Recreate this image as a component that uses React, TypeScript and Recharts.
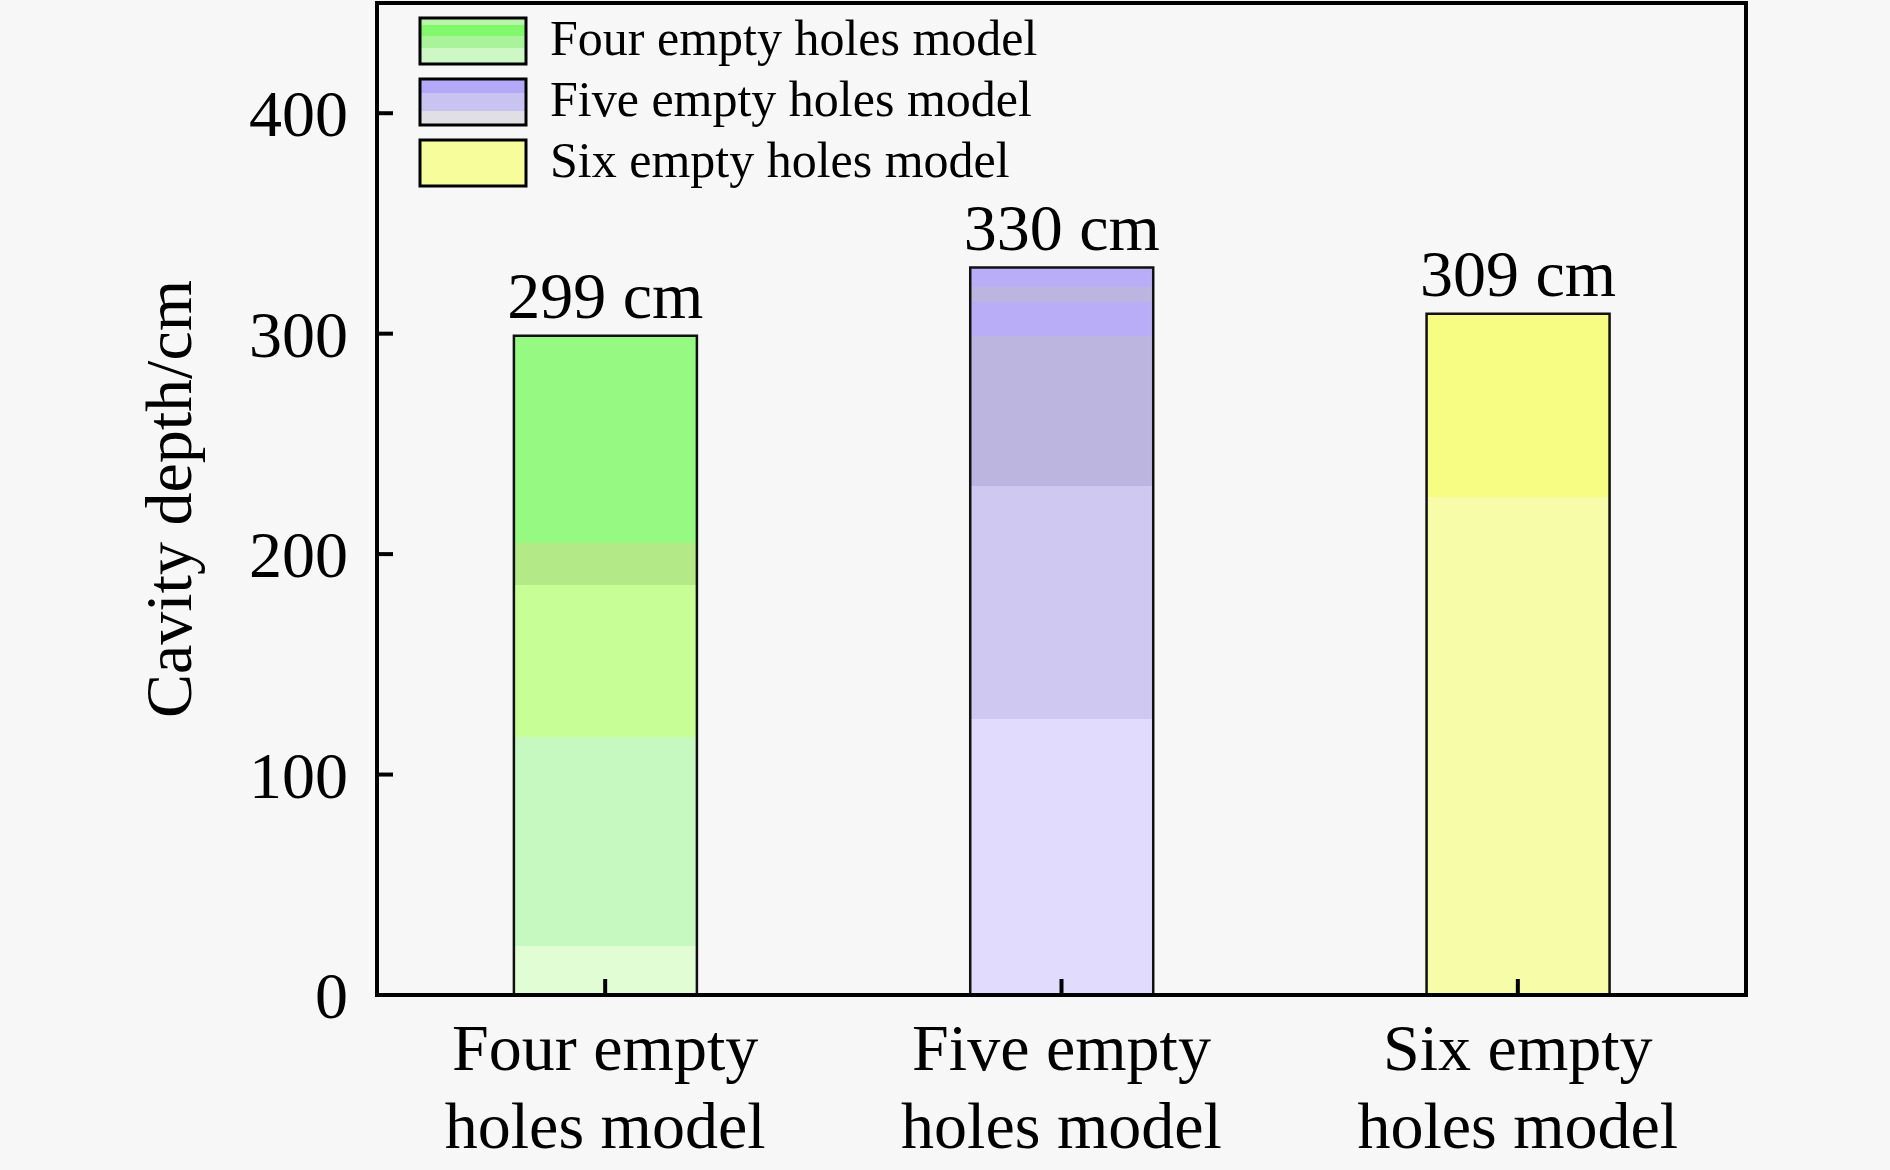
import React from "react";
import { Bar, BarChart, Cell, LabelList, Legend, XAxis, YAxis } from "recharts";

const FONT = '"Liberation Serif", "Times New Roman", serif';

// data
const models = ["Four empty holes model", "Five empty holes model", "Six empty holes model"];
const labelTop = ["Four empty", "Five empty", "Six empty"];
const labelBottom = ["holes model", "holes model", "holes model"];
const cavityDepth = [299, 330, 309];
const yTicks = [0, 100, 200, 300, 400];

const chartData = models.map((name, i) => ({ name, depth: cavityDepth[i] }));

// layout
const W = 1890;
const H = 1170;
const PLOT_LEFT = 377;
const PLOT_RIGHT = 1746;
const PLOT_TOP = 3;
const PLOT_BOTTOM = 995;
const AXIS_W = 4;
const TICK_LEN = 16;

// banded fills, offsets measured from the bar top
const fills = [
  { id: "fillFour", stops: [[0, "#96f982"], [0.314, "#b3ea87"], [0.378, "#c8fe96"], [0.609, "#c6f9c0"], [0.926, "#e0fdd4"]] },
  { id: "fillFive", stops: [[0, "#b9adf7"], [0.027, "#bbb5e0"], [0.048, "#b9adf7"], [0.094, "#bbb5e0"], [0.3, "#cfc9f2"], [0.621, "#e1dcfd"]] },
  { id: "fillSix", stops: [[0, "#f6fd82"], [0.269, "#f6fca8"]] },
] as const;

const swatches = [
  { id: "swFour", stops: [[0, "#b8f5a8"], [0.15, "#80f86a"], [0.4, "#a9f39b"], [0.65, "#cdf8c5"]] },
  { id: "swFive", stops: [[0, "#b3a9f6"], [0.3, "#c9c3f1"], [0.7, "#e0dfe6"]] },
  { id: "swSix", stops: [[0, "#f8fd9b"]] },
] as const;

function Banded({ id, stops }: { id: string; stops: readonly (readonly [number, string])[] }) {
  const out: React.ReactNode[] = [];
  stops.forEach(([off, color], i) => {
    const end = i < stops.length - 1 ? stops[i + 1][0] : 1;
    out.push(<stop key={`${i}a`} offset={off} stopColor={color} />);
    out.push(<stop key={`${i}b`} offset={end} stopColor={color} />);
  });
  return (
    <linearGradient id={id} x1="0" y1="0" x2="0" y2="1">
      {out}
    </linearGradient>
  );
}

function YTick(props: any) {
  const { y, payload } = props;
  return (
    <g>
      <line x1={PLOT_LEFT} y1={y} x2={PLOT_LEFT + TICK_LEN} y2={y} stroke="#000" strokeWidth={AXIS_W} />
      <text x={PLOT_LEFT - 29} y={y + 23} textAnchor="end" fontSize={66} fontFamily={FONT} fill="#000">
        {payload.value}
      </text>
    </g>
  );
}

function XTick(props: any) {
  const { x, payload } = props;
  const i = models.indexOf(payload.value);
  return (
    <g>
      <line x1={x} y1={PLOT_BOTTOM} x2={x} y2={PLOT_BOTTOM - TICK_LEN} stroke="#000" strokeWidth={AXIS_W} />
      <text textAnchor="middle" fontSize={66} fontFamily={FONT} fill="#000">
        <tspan x={x} y={PLOT_BOTTOM + 75}>{labelTop[i]}</tspan>
        <tspan x={x} y={PLOT_BOTTOM + 153}>{labelBottom[i]}</tspan>
      </text>
    </g>
  );
}

function AxisTitle() {
  const cx = 191;
  const cy = (PLOT_TOP + PLOT_BOTTOM) / 2;
  return (
    <text
      x={cx}
      y={cy}
      transform={`rotate(-90, ${cx}, ${cy})`}
      textAnchor="middle"
      fontSize={66}
      fontFamily={FONT}
      fill="#000"
    >
      Cavity depth/cm
    </text>
  );
}

function LegendBox() {
  return (
    <svg width={700} height={200}>
      <defs>
        {swatches.map((s) => (
          <Banded key={s.id} id={s.id} stops={s.stops} />
        ))}
      </defs>
      {models.map((name, i) => (
        <g key={name}>
          <rect x={20} y={18 + i * 61} width={106} height={46} fill={`url(#${swatches[i].id})`} stroke="#000" strokeWidth={3} />
          <text x={150} y={55 + i * 61} fontSize={50} fontFamily={FONT} fill="#000">
            {name}
          </text>
        </g>
      ))}
    </svg>
  );
}

export default function App() {
  return (
    <div style={{ position: "absolute", left: 0, top: 0, width: W, height: H, background: "#f7f7f7", fontFamily: FONT }}>
      <BarChart
        width={W}
        height={H}
        data={chartData}
        margin={{ top: PLOT_TOP, right: W - PLOT_RIGHT, left: 0, bottom: 0 }}
        barCategoryGap="30%"
      >
        <defs>
          {fills.map((f) => (
            <Banded key={f.id} id={f.id} stops={f.stops} />
          ))}
        </defs>
        {/* closed frame: top and right edges of the plot box */}
        <rect
          x={PLOT_LEFT}
          y={PLOT_TOP}
          width={PLOT_RIGHT - PLOT_LEFT}
          height={PLOT_BOTTOM - PLOT_TOP}
          fill="none"
          stroke="#000"
          strokeWidth={AXIS_W}
        />
        <XAxis
          dataKey="name"
          height={H - PLOT_BOTTOM}
          axisLine={{ stroke: "#000", strokeWidth: AXIS_W }}
          tickLine={false}
          tick={<XTick />}
          interval={0}
        />
        <YAxis
          width={PLOT_LEFT}
          domain={[0, 450]}
          ticks={yTicks}
          axisLine={{ stroke: "#000", strokeWidth: AXIS_W }}
          tickLine={false}
          tick={<YTick />}
          label={<AxisTitle />}
        />
        <Legend
          layout="horizontal"
          verticalAlign="middle"
          align="center"
          wrapperStyle={{ position: "absolute", left: 400, top: 0, width: 700, height: 200 }}
          content={() => <LegendBox />}
        />
        <Bar dataKey="depth" stroke="#111" strokeWidth={2.5} isAnimationActive={false}>
          {chartData.map((d, i) => (
            <Cell key={d.name} fill={`url(#${fills[i].id})`} />
          ))}
          <LabelList
            dataKey="depth"
            position="top"
            offset={18}
            formatter={(v: any) => `${v} cm`}
            fontSize={66}
            fontFamily={FONT}
            fill="#000"
          />
        </Bar>
      </BarChart>
    </div>
  );
}
